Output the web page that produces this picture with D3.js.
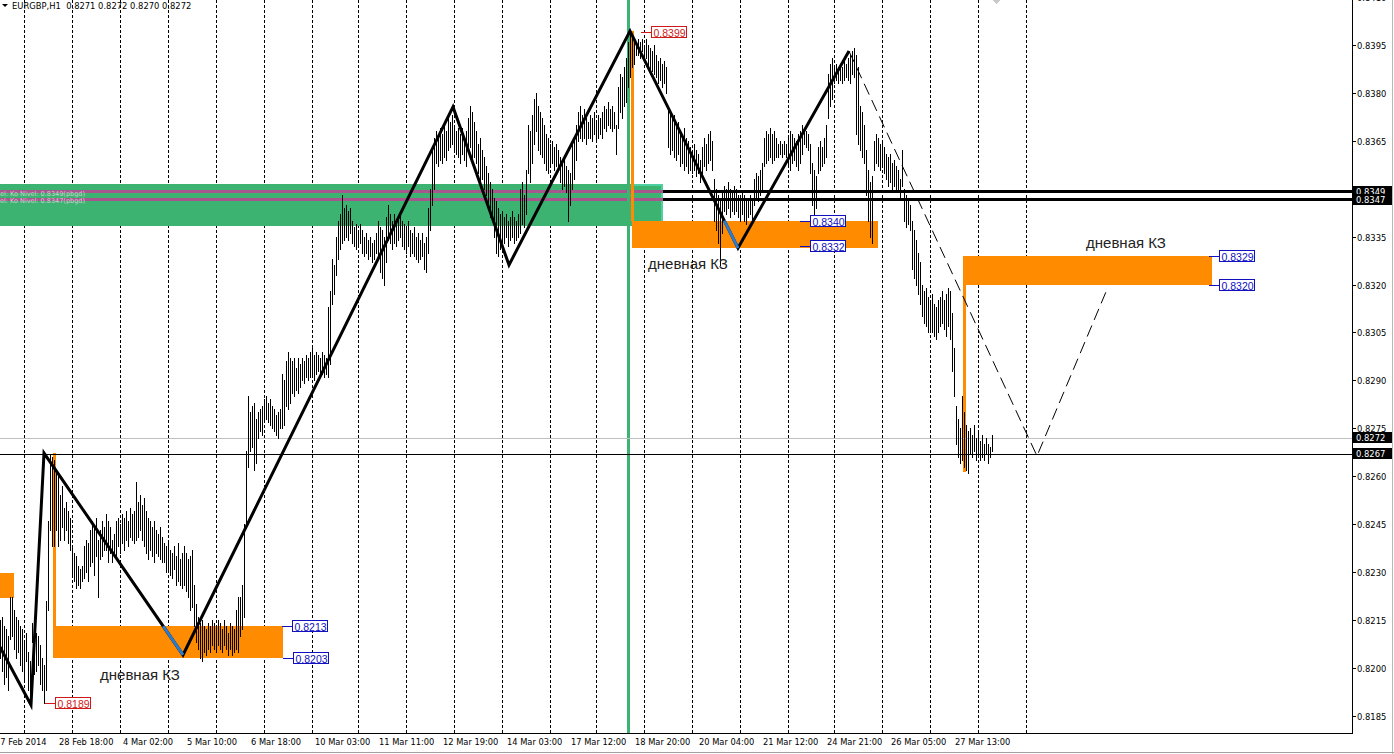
<!DOCTYPE html>
<html><head><meta charset="utf-8">
<script src="https://cdn.jsdelivr.net/npm/d3@7"></script>
<style>body{margin:0;background:#fff;overflow:hidden}svg{display:block}</style>
</head><body><svg id="c" width="1394" height="754"></svg>
<script>
// ---- DATA (prices in pips: 8215 = 0.8215), one H1 bar per index ----
const barHigh=[8215,8216,8213,8212,8210,8222,8222,8218,8216,8215,8213,8212,8208,8211,8205,8202,8214,8212,8211,8210,
8207,8203,8201,8221,8246,8267,8266,8265,8262,8260,8254,8257,8250,8252,8249,8247,8238,8236,8235,8232,
8231,8232,8238,8240,8239,8243,8246,8244,8247,8240,8243,8246,8244,8248,8246,8244,8240,8242,8246,8247,
8245,8248,8247,8249,8246,8250,8248,8249,8258,8252,8254,8251,8253,8249,8247,8246,8244,8246,8243,8242,
8244,8241,8239,8238,8240,8237,8236,8238,8235,8239,8234,8236,8238,8236,8234,8235,8237,8226,8220,8216,
8214,8215,8213,8212,8214,8213,8215,8214,8213,8215,8214,8212,8215,8213,8211,8214,8213,8212,8218,8222,
8222,8226,8245,8268,8285,8280,8282,8283,8278,8280,8281,8282,8284,8285,8283,8284,8282,8281,8279,8280,
8281,8292,8290,8296,8299,8297,8296,8297,8294,8297,8295,8297,8296,8298,8297,8299,8300,8298,8299,8298,
8297,8299,8298,8297,8313,8318,8328,8326,8335,8340,8342,8348,8344,8345,8343,8344,8340,8338,8339,8337,
8339,8337,8335,8336,8334,8335,8333,8334,8336,8340,8338,8337,8335,8341,8345,8342,8340,8342,8339,8341,
8343,8340,8339,8338,8340,8337,8336,8338,8335,8336,8334,8336,8333,8335,8344,8350,8363,8366,8368,8366,
8369,8367,8370,8368,8372,8371,8373,8370,8368,8369,8367,8369,8366,8368,8372,8376,8374,8371,8368,8364,
8366,8362,8360,8357,8355,8352,8350,8347,8346,8344,8342,8343,8341,8342,8340,8341,8343,8341,8340,8342,
8350,8352,8348,8356,8370,8368,8373,8378,8380,8376,8374,8372,8370,8367,8366,8364,8365,8363,8364,8362,
8360,8358,8359,8357,8356,8355,8364,8366,8370,8374,8376,8373,8375,8372,8371,8373,8372,8374,8371,8373,
8372,8374,8376,8375,8377,8375,8376,8374,8370,8382,8386,8385,8388,8391,8396,8399,8398,8397,8396,8397,
8396,8397,8395,8397,8395,8394,8393,8395,8392,8390,8391,8389,8390,8388,8376,8374,8372,8373,8370,8371,
8368,8367,8369,8366,8365,8363,8362,8364,8362,8361,8359,8363,8366,8364,8367,8368,8365,8353,8350,8348,
8346,8349,8351,8350,8352,8350,8349,8351,8350,8348,8347,8349,8348,8346,8347,8348,8346,8353,8355,8354,
8356,8358,8366,8368,8367,8369,8367,8368,8366,8364,8365,8364,8365,8364,8366,8368,8367,8366,8365,8367,
8368,8370,8369,8368,8367,8364,8358,8356,8354,8363,8365,8363,8366,8370,8386,8389,8391,8388,8389,8388,
8389,8388,8390,8389,8391,8392,8393,8394,8392,8388,8376,8374,8370,8362,8356,8352,8354,8365,8367,8366,
8364,8365,8363,8361,8360,8361,8358,8359,8357,8356,8353,8362,8350,8348,8346,8345,8340,8337,8334,8330,
8327,8320,8318,8319,8316,8315,8317,8314,8313,8315,8316,8318,8315,8317,8319,8318,8311,8300,8282,8278,
8275,8285,8280,8276,8274,8275,8273,8276,8272,8274,8271,8273,8270,8272,8270,8269,8273];
const barLow=[8203,8199,8195,8197,8193,8209,8210,8206,8203,8205,8201,8199,8196,8202,8193,8190,8208,8198,8199,8201,
8195,8193,8189,8193,8218,8243,8238,8238,8243,8238,8240,8244,8240,8243,8239,8237,8229,8227,8225,8226,
8225,8227,8228,8230,8227,8232,8233,8229,8235,8222,8234,8235,8237,8237,8233,8236,8233,8236,8235,8238,
8236,8239,8237,8240,8238,8241,8240,8239,8240,8241,8243,8240,8238,8236,8234,8237,8235,8233,8236,8235,
8234,8233,8233,8230,8231,8229,8228,8231,8226,8227,8226,8225,8226,8224,8222,8218,8219,8213,8208,8206,
8203,8202,8205,8204,8206,8205,8207,8206,8205,8207,8206,8205,8207,8206,8204,8206,8204,8205,8206,8205,
8210,8212,8216,8245,8263,8268,8269,8262,8264,8272,8274,8273,8278,8278,8277,8276,8275,8274,8273,8272,
8275,8275,8276,8282,8281,8283,8286,8285,8287,8286,8288,8290,8289,8291,8290,8291,8292,8290,8292,8293,
8292,8292,8291,8292,8291,8295,8314,8317,8323,8328,8331,8333,8334,8335,8334,8336,8333,8332,8331,8332,
8333,8330,8329,8330,8328,8329,8327,8328,8330,8329,8324,8322,8320,8327,8334,8333,8331,8333,8332,8334,
8335,8332,8331,8330,8332,8329,8330,8329,8328,8327,8328,8329,8325,8324,8330,8337,8345,8350,8358,8357,
8359,8358,8360,8359,8362,8363,8364,8362,8361,8360,8358,8361,8359,8357,8362,8363,8359,8360,8358,8355,
8352,8353,8350,8348,8344,8341,8340,8335,8330,8329,8331,8334,8333,8335,8332,8334,8335,8333,8334,8335,
8336,8339,8338,8342,8355,8352,8358,8364,8368,8362,8361,8360,8358,8356,8355,8357,8358,8356,8357,8356,
8352,8350,8351,8349,8340,8345,8350,8353,8359,8365,8366,8365,8366,8364,8366,8366,8365,8367,8365,8366,
8367,8366,8369,8368,8370,8369,8368,8369,8361,8369,8374,8372,8376,8377,8382,8385,8388,8389,8392,8392,
8391,8393,8392,8391,8388,8386,8387,8386,8385,8383,8384,8382,8383,8380,8363,8361,8362,8360,8359,8361,
8357,8358,8356,8357,8355,8356,8355,8356,8354,8355,8352,8354,8357,8356,8358,8359,8356,8340,8337,8333,
8326,8336,8343,8342,8344,8341,8343,8342,8343,8341,8340,8342,8340,8339,8341,8342,8340,8345,8347,8346,
8348,8349,8357,8358,8359,8360,8358,8359,8360,8360,8361,8360,8361,8360,8357,8356,8358,8359,8357,8356,
8358,8361,8364,8363,8362,8355,8345,8342,8344,8355,8356,8357,8358,8360,8372,8376,8378,8383,8384,8383,
8384,8383,8384,8385,8384,8383,8386,8385,8367,8364,8362,8360,8358,8348,8340,8335,8333,8356,8358,8357,
8356,8357,8355,8353,8351,8352,8350,8351,8350,8349,8347,8351,8340,8338,8339,8337,8325,8322,8320,8317,
8314,8310,8308,8307,8305,8306,8305,8304,8303,8305,8307,8308,8306,8304,8307,8303,8293,8285,8270,8266,
8264,8265,8263,8262,8261,8267,8266,8268,8265,8267,8265,8266,8265,8267,8264,8266,8268];

const priceTicks=[0.8410,0.8395,0.8380,0.8365,0.8350,0.8335,0.8320,0.8305,0.8290,0.8275,0.8260,0.8245,0.8230,0.8215,0.8200,0.8185];
const timeLabelIdx=[-4,28,60,92,124,156,188,220,252,284,316,348,380,412,444,476];
const timeLabels=["27 Feb 2014","28 Feb 18:00","4 Mar 02:00","5 Mar 10:00","6 Mar 18:00","10 Mar 03:00","11 Mar 11:00","12 Mar 19:00","14 Mar 03:00","17 Mar 12:00","18 Mar 20:00","20 Mar 04:00","21 Mar 12:00","24 Mar 21:00","26 Mar 05:00","27 Mar 13:00"];
const gridIdx=[12,36,60,84,108,132,156,179,203,227,251,275,298,322,346,370,394,417,441,465,489,513];

// manual zigzag (bar index, price)
const zigIdx=[0,15.5,22,91.5,226.5,254.5,315,369,424.5];
const zigPrice=[0.82065,0.81883,0.82672,0.82040,0.83756,0.83261,0.83994,0.83314,0.83931];
// projected dashed path
const projIdx=[424.5,518.5,554];
const projPrice=[0.83931,0.82663,0.83192];

// zones
const zoneNames=["r1","r2","v1","r3","v2","r4","v3"];
const zoneIdx0=[-5,26.6,26.35,315.85,315.5,481.65,481.35];
const zoneIdx1=[7,141.7,28,439.15,317,606.15,483];
const zoneTop=[0.82295,0.8213,0.82672,0.8340,0.83994,0.8329,0.8320];
const zoneBot=[0.82218,0.8203,0.8213,0.83315,0.8340,0.8320,0.82613];
const greenZone={i0:-5,i1:331.5,top:0.83515,bot:0.83384};
const levelPrices=[0.83490,0.83466];
const askPrice=0.8272, bidLine=0.8267;
const greenVIdx=314.25;
const shiftMarkIdx=498;

// price labels
const redLabelPrice=[0.8399,0.8189], redLabelIdx=[320.5,22.5];
const blueLabelPrice=[0.8213,0.8203,0.8340,0.8332,0.8329,0.8320], blueLabelIdx=[141,141.5,400,400,604.5,604.5];
// annotations
const noteText=["дневная КЗ","дневная КЗ","дневная КЗ"];
const noteIdx=[50,324,543];
const notePrice=[0.81961,0.83250,0.83314];
const title="EURGBP,H1  0.8271 0.8272 0.8270 0.8272";

// ---- DRAW ----
const W=1394,H=754,PR=1352,PB=733;
const svg=d3.select("#c");
const x=d3.scaleLinear().domain([0,676]).range([0,PR]);
const y=d3.scaleLinear().domain([0.8185,0.8395]).range([715.6,45]);
const px=v=>v/10000;

svg.append("rect").attr("width",W).attr("height",H).attr("fill","#fff");
const plot=svg.append("g");
plot.append("clipPath").attr("id","pc").append("rect").attr("width",PR).attr("height",PB);
const g=plot.append("g").attr("clip-path","url(#pc)").style("shape-rendering","crispEdges");

// grid
g.selectAll(".grid").data(gridIdx).join("line")
 .attr("x1",d=>Math.round(x(d))+0.5).attr("x2",d=>Math.round(x(d))+0.5)
 .attr("y1",0).attr("y2",PB).attr("stroke","#000").attr("stroke-width",1).attr("stroke-dasharray","3,2");

// green zone
g.append("rect").attr("x",x(greenZone.i0)).attr("width",x(greenZone.i1)-x(greenZone.i0))
 .attr("y",y(greenZone.top)).attr("height",y(greenZone.bot)-y(greenZone.top)).attr("fill","#3cb371");
g.append("rect").attr("x",x(316)+1).attr("width",x(greenZone.i1)-x(316)-2)
 .attr("y",y(greenZone.top)+1).attr("height",y(greenZone.bot)-y(greenZone.top)-2)
 .attr("fill","none").attr("stroke","#4fd0a0").attr("stroke-width",2);
// level lines: pink inside zone, black beyond
levelPrices.forEach(p=>{
  g.append("line").attr("x1",0).attr("x2",x(greenZone.i1)).attr("y1",y(p)).attr("y2",y(p)).attr("stroke","#a8568e").attr("stroke-width",3);
  g.append("line").attr("x1",x(greenZone.i1)).attr("x2",PR).attr("y1",y(p)).attr("y2",y(p)).attr("stroke","#000").attr("stroke-width",3);
});
// tiny zone texts
[["el: Ko Nivel: 0.8349(pbgd)",levelPrices[0]-0.00012],["el: Ko Nivel: 0.8347(pbgd)",levelPrices[1]-0.0001]].forEach(t=>{
  g.append("text").attr("x",0).attr("y",y(t[1])).text(t[0]).attr("font-family","DejaVu Sans").attr("font-size",6.5).attr("fill","#d0d0d0");
});

// orange zones
g.selectAll(".zone").data(zoneNames).join("rect")
 .attr("x",(d,i)=>x(zoneIdx0[i])).attr("width",(d,i)=>x(zoneIdx1[i])-x(zoneIdx0[i]))
 .attr("y",(d,i)=>y(zoneTop[i])).attr("height",(d,i)=>y(zoneBot[i])-y(zoneTop[i]))
 .attr("fill","#ff8c00");

// vertical green line
g.append("rect").attr("x",x(greenVIdx)-1.5).attr("width",3).attr("y",0).attr("height",PB).attr("fill","#3cb371");

// ask / bid lines
g.append("line").attr("x1",0).attr("x2",PR).attr("y1",Math.round(y(askPrice))+0.5).attr("y2",Math.round(y(askPrice))+0.5).attr("stroke","#c0c0c0");
g.append("line").attr("x1",0).attr("x2",PR).attr("y1",Math.round(y(bidLine))+0.5).attr("y2",Math.round(y(bidLine))+0.5).attr("stroke","#000");

// bars
g.selectAll(".bar").data(barHigh).join("line")
 .attr("x1",(d,i)=>x(i)+0.5).attr("x2",(d,i)=>x(i)+0.5)
 .attr("y1",d=>y(px(d))).attr("y2",(d,i)=>y(px(barLow[i]))+1)
 .attr("stroke","#000").attr("stroke-width",1);

// shift marker at top
g.append("path").attr("d",`M${x(shiftMarkIdx)-4},0 L${x(shiftMarkIdx)+4},0 L${x(shiftMarkIdx)},4 Z`).attr("fill","#c8c8c8");

// zigzag
const gl=plot.append("g").attr("clip-path","url(#pc)");
const line=d3.line().x(d=>x(d[0])).y(d=>y(d[1]));
const zig=zigIdx.map((d,i)=>[d,zigPrice[i]]);
gl.append("path").attr("d",line(zig)).attr("fill","none").attr("stroke","#000").attr("stroke-width",3).attr("stroke-linejoin","miter");
// blue portions inside the zones
[[1,2,3,0.8213],[5,6,7,0.8340]].forEach(([a,b,c,p])=>{
  const A=zig[b],B=zig[c];
  const t=(A[1]-p)/(A[1]-B[1]);
  const s=[A[0]+t*(B[0]-A[0]),p];
  gl.append("path").attr("d",line([s,B])).attr("stroke","#2b7bd0").attr("stroke-width",3).attr("fill","none");
});
// projection
gl.append("path").attr("d",line(projIdx.map((d,i)=>[d,projPrice[i]]))).attr("fill","none")
 .attr("stroke","#000").attr("stroke-width",1).attr("stroke-dasharray","12,6");

// price labels
function plabel(p,idx,col){
  const x0=x(idx),yy=Math.round(y(p))+0.5;
  gl.append("line").attr("x1",x0).attr("x2",x0+10).attr("y1",yy).attr("y2",yy).attr("stroke",col);
  gl.append("rect").attr("x",Math.round(x0+10)+0.5).attr("y",yy-6).attr("width",35).attr("height",11).attr("fill","#fff").attr("stroke",col);
  gl.append("text").attr("x",x0+12.5).attr("y",yy+4).text(p.toFixed(4)).attr("fill",col)
   .attr("font-family","Liberation Sans, Arial").attr("font-size",10.5);
}
redLabelPrice.forEach((p,i)=>plabel(p,redLabelIdx[i],"#d01818"));
blueLabelPrice.forEach((p,i)=>plabel(p,blueLabelIdx[i],"#1010c0"));

// notes
noteText.forEach((t,i)=>gl.append("text").attr("x",x(noteIdx[i])).attr("y",y(notePrice[i])).text(t)
  .attr("font-family","Liberation Sans, Arial").attr("font-size",15).attr("fill","#222"));

// axes
const ax=svg.append("g").style("shape-rendering","crispEdges");
ax.append("line").attr("x1",PR+0.5).attr("x2",PR+0.5).attr("y1",0).attr("y2",PB+1).attr("stroke","#000");
ax.append("line").attr("x1",0).attr("x2",PR+1).attr("y1",PB+0.5).attr("y2",PB+0.5).attr("stroke","#000");
ax.append("line").attr("x1",1392.5).attr("x2",1392.5).attr("y1",0).attr("y2",H).attr("stroke","#b8b8b8");
ax.append("line").attr("x1",0).attr("x2",W).attr("y1",752.5).attr("y2",752.5).attr("stroke","#a0a0a0");
priceTicks.forEach(p=>{
  const yy=Math.round(y(p))+0.5;
  ax.append("line").attr("x1",PR).attr("x2",PR+4).attr("y1",yy).attr("y2",yy).attr("stroke","#000");
  ax.append("text").attr("x",PR+5).attr("y",yy+3).text(p.toFixed(4)).attr("font-family","DejaVu Sans").attr("font-size",8.4).attr("fill","#000");
});
timeLabels.forEach((t,i)=>{
  ax.append("text").attr("x",x(timeLabelIdx[i])+3).attr("y",745).text(t).attr("font-family","DejaVu Sans").attr("font-size",8.3).attr("fill","#000");
});
// right axis highlighted labels
[[levelPrices[0]],[levelPrices[1]],[askPrice],[bidLine]].forEach(([p])=>{
  const yy=y(p);
  ax.append("rect").attr("x",PR+1).attr("y",yy-5.5).attr("width",39).attr("height",11).attr("fill","#000");
  ax.append("text").attr("x",PR+4).attr("y",yy+3.5).text(p.toFixed(4)).attr("font-family","DejaVu Sans").attr("font-size",8.4).attr("fill","#fff");
});

// title
svg.append("path").attr("d","M2,4 L8,4 L5,7 Z").attr("fill","#000");
svg.append("text").attr("x",12).attr("y",8.5).text(title).attr("font-family","DejaVu Sans").attr("font-size",8.4).attr("fill","#000").style("white-space","pre").attr("xml:space","preserve");
</script></body></html>
